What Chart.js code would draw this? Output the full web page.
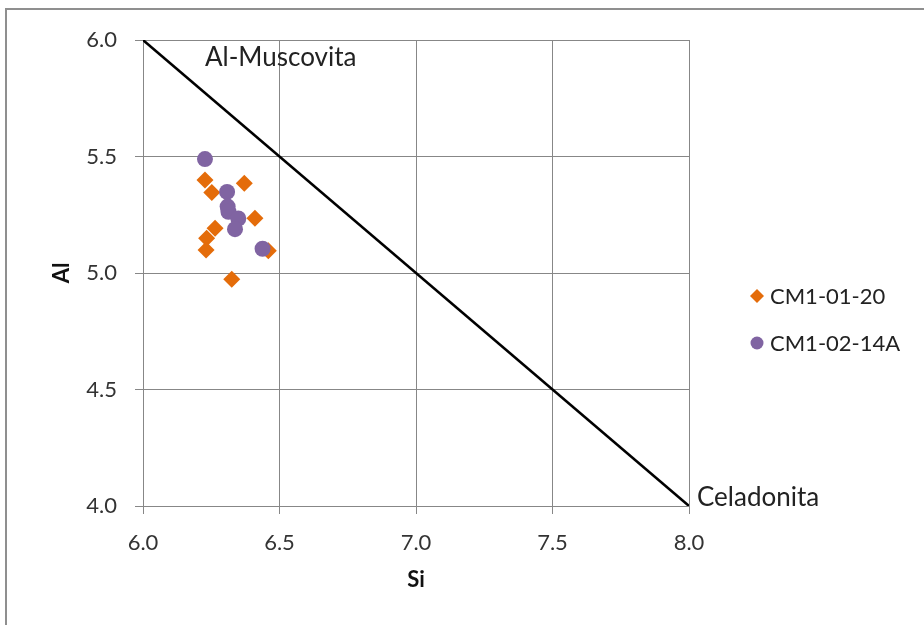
<!DOCTYPE html>
<html>
<head>
<meta charset="utf-8">
<script src="https://cdn.jsdelivr.net/npm/chart.js@4/dist/chart.umd.min.js"></script>
<style>
  html, body { margin: 0; padding: 0; background: #fff; }
  #wrap { width: 924px; height: 625px; }
</style>
</head>
<body>
<div id="wrap"><canvas id="c" width="924" height="625"></canvas></div>
<script>
// ---- data ----
const seriesNames = ['CM1-01-20', 'CM1-02-14A'];
const siCM10120 = [6.227, 6.252, 6.371, 6.410, 6.264, 6.233, 6.231, 6.459, 6.325];
const alCM10120 = [5.399, 5.346, 5.385, 5.235, 5.192, 5.149, 5.099, 5.096, 4.973];
const siCM10214A = [6.227, 6.308, 6.310, 6.313, 6.349, 6.337, 6.438];
const alCM10214A = [5.489, 5.348, 5.285, 5.263, 5.234, 5.188, 5.104];
const lineSi = [6.0, 8.0];
const lineAl = [6.0, 4.0];
const endLabels = ['Al-Muscovita', 'Celadonita'];
const xTickValues = [6.0, 6.5, 7.0, 7.5, 8.0];
const yTickValues = [4.0, 4.5, 5.0, 5.5, 6.0];
const xTitle = 'Si';
const yTitle = 'Al';

const FONT = 'Lato';
const ORANGE = '#E46C0A';
const PURPLE = '#8064A2';
const GRID = '#878787';

const toPts = (xs, ys) => xs.map((x, i) => ({ x: x, y: ys[i] }));

const framePlugin = {
  id: 'frame',
  beforeDraw(chart) {
    const ctx = chart.ctx;
    ctx.save();
    ctx.fillStyle = '#fff';
    ctx.fillRect(0, 0, chart.width, chart.height);
    ctx.strokeStyle = '#8f8f8f';
    ctx.lineWidth = 2;
    ctx.beginPath();
    ctx.moveTo(6, chart.height);
    ctx.lineTo(6, 9);
    ctx.lineTo(chart.width, 9);
    ctx.stroke();
    ctx.restore();
  }
};

const labelPlugin = {
  id: 'endLabels',
  afterDatasetsDraw(chart) {
    const ctx = chart.ctx;
    const xs = chart.scales.x, ys = chart.scales.y;
    ctx.save();
    ctx.fillStyle = '#222';
    ctx.font = '26px ' + FONT;
    ctx.textBaseline = 'middle';
    ctx.textAlign = 'left';
    ctx.fillText(endLabels[0], xs.getPixelForValue(lineSi[0]) + 62, ys.getPixelForValue(lineAl[0]) + 18);
    ctx.fillText(endLabels[1], xs.getPixelForValue(lineSi[1]) + 8, ys.getPixelForValue(lineAl[1]) - 8);
    ctx.restore();
  }
};

const legendPlugin = {
  id: 'customLegend',
  afterDraw(chart) {
    const ctx = chart.ctx;
    ctx.save();
    ctx.font = '22px ' + FONT;
    ctx.textBaseline = 'middle';
    ctx.textAlign = 'left';
    const items = [
      { name: seriesNames[0], color: ORANGE, shape: 'diamond', y: 296 },
      { name: seriesNames[1], color: PURPLE, shape: 'circle', y: 343 }
    ];
    items.forEach(it => {
      const cx = 757;
      ctx.fillStyle = it.color;
      ctx.beginPath();
      if (it.shape === 'diamond') {
        ctx.moveTo(cx, it.y - 7);
        ctx.lineTo(cx + 7, it.y);
        ctx.lineTo(cx, it.y + 7);
        ctx.lineTo(cx - 7, it.y);
        ctx.closePath();
      } else {
        ctx.arc(cx, it.y, 6.5, 0, Math.PI * 2);
      }
      ctx.fill();
      ctx.fillStyle = '#222';
      ctx.fillText(it.name, 770, it.y + 1);
    });
    ctx.restore();
  }
};

new Chart(document.getElementById('c'), {
  type: 'scatter',
  data: {
    datasets: [
      {
        label: seriesNames[0],
        data: toPts(siCM10120, alCM10120),
        pointStyle: 'rectRot',
        pointRadius: 8.5,
        pointHoverRadius: 8.5,
        backgroundColor: ORANGE,
        borderColor: ORANGE,
        borderWidth: 0,
        order: 1
      },
      {
        label: seriesNames[1],
        data: toPts(siCM10214A, alCM10214A),
        pointStyle: 'circle',
        pointRadius: 8,
        pointHoverRadius: 8,
        backgroundColor: PURPLE,
        borderColor: PURPLE,
        borderWidth: 0,
        order: 0
      },
      {
        label: 'line',
        data: toPts(lineSi, lineAl),
        showLine: true,
        pointRadius: 0,
        borderColor: '#000',
        borderWidth: 2.5,
        fill: false,
        order: 2
      }
    ]
  },
  options: {
    responsive: false,
    animation: false,
    layout: { padding: { left: 0, top: 40, right: 235, bottom: 0 } },
    plugins: {
      legend: { display: false },
      tooltip: { enabled: false }
    },
    scales: {
      x: {
        type: 'linear',
        min: 6, max: 8,
        afterBuildTicks: s => { s.ticks = xTickValues.map(v => ({ value: v })); },
        afterFit: s => { s.height = 119; },
        grid: { color: GRID, lineWidth: 1, tickLength: 8, drawTicks: true },
        border: { display: true, color: GRID, width: 1 },
        ticks: {
          padding: 16,
          color: '#333',
          font: { family: FONT, size: 22 },
          callback: v => Number(v).toFixed(1)
        },
        title: {
          display: true, text: xTitle, color: '#111',
          font: { family: FONT, size: 22, weight: 'bold' },
          padding: { top: 0, bottom: 32 }
        }
      },
      y: {
        type: 'linear',
        min: 4, max: 6,
        afterBuildTicks: s => { s.ticks = yTickValues.map(v => ({ value: v })); },
        afterFit: s => { s.width = 143; },
        grid: { color: GRID, lineWidth: 1, tickLength: 8, drawTicks: true },
        border: { display: true, color: GRID, width: 1 },
        ticks: {
          padding: 18,
          color: '#333',
          font: { family: FONT, size: 22 },
          callback: v => Number(v).toFixed(1)
        },
        title: {
          display: true, text: yTitle, color: '#111',
          font: { family: FONT, size: 22, weight: 'bold' },
          padding: { top: 49, bottom: 0 }
        }
      }
    }
  },
  plugins: [framePlugin, labelPlugin, legendPlugin]
});
</script>
</body>
</html>
